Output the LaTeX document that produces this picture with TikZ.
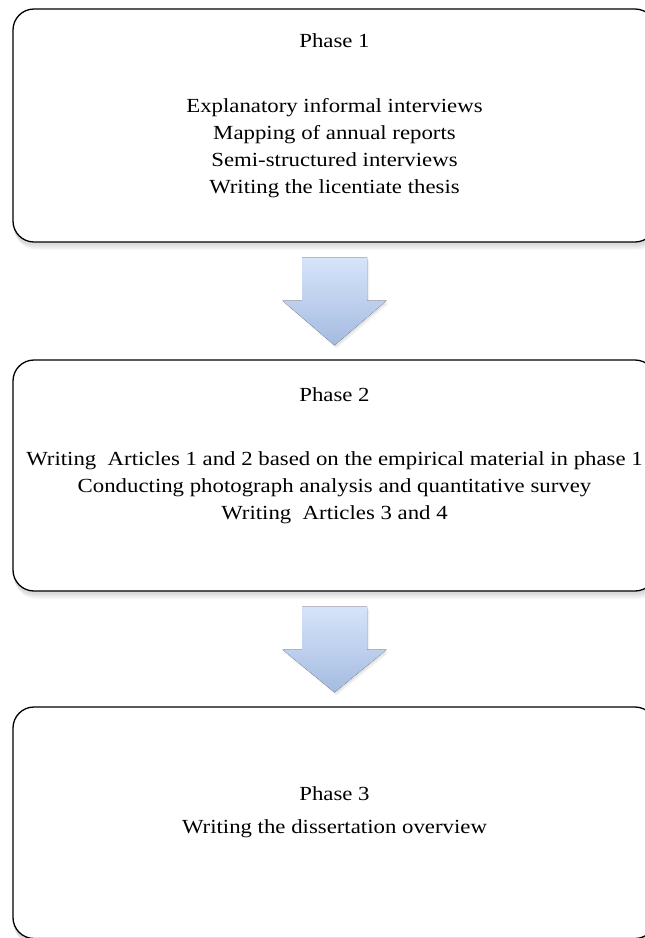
\documentclass[tikz,border=0pt]{standalone}
\usepackage{fontspec}
\setmainfont[FakeStretch=1.14]{Liberation Serif}
\usetikzlibrary{calc}
\definecolor{arrtop}{RGB}{214,228,250}
\definecolor{arrbot}{RGB}{164,187,224}
\tikzset{
  phasebox/.style={draw=black, line width=1.3pt, rounded corners=21pt, fill=white, minimum width=643pt, inner sep=0pt},
  boxtext/.style={font=\fontsize{20}{27}\selectfont, align=center, inner sep=0pt},
  blockarrow/.style={top color=arrtop, bottom color=arrbot, draw=none},
}
\newcommand{\softshadow}[4]{% x1 y1 x2 y2
  \foreach \k in {1,...,6}{
    \fill[black, opacity=0.025, rounded corners=21pt] (#1+\k*0.5-1, #2+\k+2) rectangle (#3+\k*0.5+1, #4+\k+2);
  }
}
\begin{document}
\begin{tikzpicture}[x=1pt,y=-1pt]
\useasboundingbox (0,0) rectangle (645,938);
\clip (0,0) rectangle (645,938);
\fill[white] (0,0) rectangle (645,938);
% shadows
\softshadow{13}{9}{656}{242}
\softshadow{13}{360}{656}{591}
\softshadow{13}{707}{656}{938.5}
% boxes
\node[phasebox, minimum height=233pt] (b1) at (334.5,125.5) {};
\node[phasebox, minimum height=231pt] (b2) at (334.5,475.5) {};
\node[phasebox, minimum height=231.5pt] (b3) at (334.5,822.75) {};
% texts
\node[boxtext] (t1) at (334.5,41) {Phase 1};
\node[boxtext] (t1b) at (334.5,148.5) {Explanatory informal interviews\\Mapping of annual reports\\Semi-structured interviews\\Writing the licentiate thesis};
\node[boxtext] (t2) at (334.5,395) {Phase 2};
\node[boxtext] (t2b) at (334.5,488) {Writing\ \ Articles 1 and 2 based on the empirical material in phase 1\\Conducting photograph analysis and quantitative survey\\Writing\ \ Articles 3 and 4};
\node[boxtext] (t3) at (334.5,794) {Phase 3};
\node[boxtext] (t3b) at (334.5,829) {Writing the dissertation overview};
% arrows
\foreach \src/\dst/\nm in {b1/b2/a1, b2/b3/a2}{
  \coordinate (\nm s) at ($(\src.south)+(0,15)$);
  \coordinate (\nm e) at ($(\dst.north)+(0,-14)$);
  \foreach \k in {1,...,4}{
    \fill[black, opacity=0.03] ($(\nm s)+(-32.5+\k*0.6,\k*0.8)$) -- ($(\nm s)+(32.5+\k*0.6,\k*0.8)$) -- ($(\nm s)+(32.5+\k*0.6,43+\k*0.8)$) -- ($(\nm s)+(52+\k*0.6,43+\k*0.8)$) -- ($(\nm e)+(\k*0.6,\k*0.8)$) -- ($(\nm s)+(-52+\k*0.6,43+\k*0.8)$) -- ($(\nm s)+(-32.5+\k*0.6,43+\k*0.8)$) -- cycle;
  }
  \fill[blockarrow] ($(\nm s)+(-32.5,0)$) -- ($(\nm s)+(32.5,0)$) -- ($(\nm s)+(32.5,43)$) -- ($(\nm s)+(52,43)$) -- (\nm e) -- ($(\nm s)+(-52,43)$) -- ($(\nm s)+(-32.5,43)$) -- cycle;
}
\end{tikzpicture}
\end{document}
